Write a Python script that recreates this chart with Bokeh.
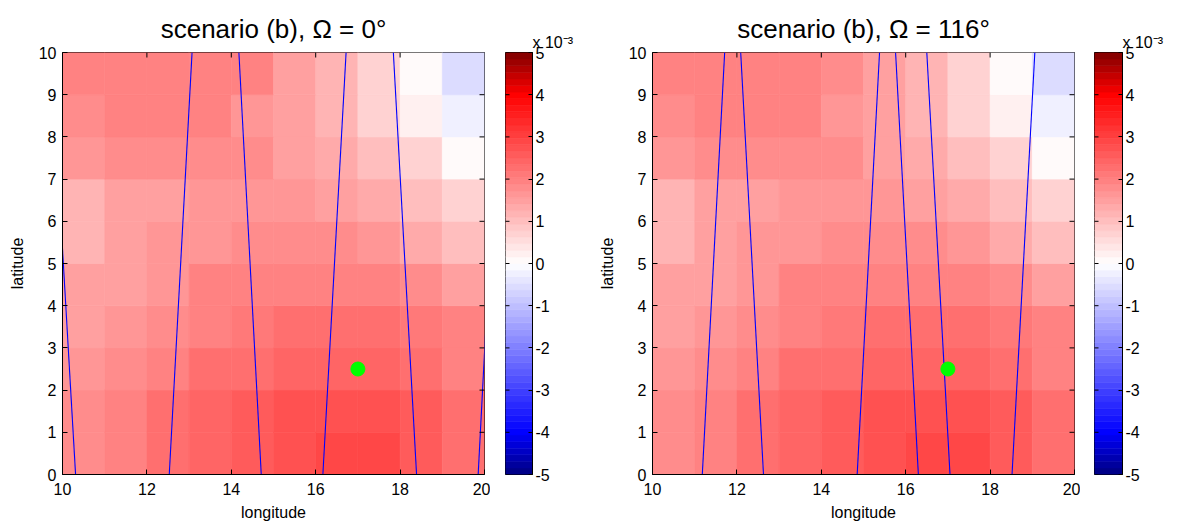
import math
from bokeh.plotting import figure
from bokeh.layouts import row
from bokeh.models import ColumnDataSource, FixedTicker, Title
from bokeh.transform import linear_cmap
from bokeh.embed import file_html
from bokeh.resources import INLINE

# ---------------- data ----------------
lon_centers = [10.5, 11.5, 12.5, 13.5, 14.5, 15.5, 16.5, 17.5, 18.5, 19.5]
lat_centers = [0.5, 1.5, 2.5, 3.5, 4.5, 5.5, 6.5, 7.5, 8.5, 9.5]

# values (x 10^-3), one row per latitude band, from lat 0-1 (first) to lat 9-10 (last)
vals_omega0 = [
    [1.80, 1.96, 2.27, 2.43, 2.51, 2.67, 2.87, 2.87, 2.59, 2.27],
    [1.80, 1.96, 2.20, 2.43, 2.51, 2.67, 2.67, 2.67, 2.51, 2.27],
    [1.57, 1.73, 1.99, 2.20, 2.30, 2.46, 2.46, 2.46, 2.27, 1.99],
    [1.41, 1.57, 1.80, 1.99, 2.15, 2.30, 2.30, 2.30, 2.15, 1.88],
    [1.41, 1.41, 1.57, 1.88, 1.99, 1.99, 1.99, 1.99, 1.80, 1.49],
    [1.18, 1.41, 1.65, 1.65, 1.80, 1.80, 1.80, 1.65, 1.25, 0.94],
    [1.18, 1.41, 1.41, 1.65, 1.65, 1.65, 1.41, 1.25, 0.94, 0.63],
    [1.65, 1.73, 1.73, 1.73, 1.73, 1.41, 1.25, 0.94, 0.63, 0.00],
    [1.73, 1.88, 1.88, 1.88, 1.65, 1.49, 1.10, 0.78, 0.24, -0.30],
    [1.99, 1.99, 1.99, 1.99, 1.99, 1.49, 1.10, 0.63, 0.00, -0.60],
]
vals_omega116 = [
    [1.80, 1.96, 2.27, 2.43, 2.51, 2.67, 2.87, 2.87, 2.59, 2.27],
    [1.80, 1.96, 2.20, 2.43, 2.51, 2.67, 2.67, 2.67, 2.51, 2.27],
    [1.57, 1.73, 1.99, 2.20, 2.30, 2.46, 2.46, 2.46, 2.27, 1.99],
    [1.41, 1.57, 1.80, 1.99, 2.15, 2.30, 2.30, 2.30, 2.15, 1.88],
    [1.41, 1.41, 1.57, 1.88, 1.99, 1.99, 1.99, 1.99, 1.80, 1.49],
    [1.18, 1.41, 1.65, 1.65, 1.80, 1.80, 1.80, 1.65, 1.25, 0.94],
    [1.18, 1.41, 1.41, 1.65, 1.65, 1.65, 1.41, 1.25, 0.94, 0.63],
    [1.65, 1.73, 1.73, 1.73, 1.73, 1.41, 1.25, 0.94, 0.63, 0.00],
    [1.73, 1.88, 1.88, 1.88, 1.65, 1.41, 1.10, 0.78, 0.24, -0.30],
    [1.99, 1.99, 1.99, 1.99, 1.80, 1.41, 1.10, 0.63, 0.00, -0.60],
]

# ground tracks: longitude at latitude 0 and at latitude 10
track_lats = [0, 10]
tracks_omega0_lon_lat0 = [10.31, 12.53, 14.71, 16.17, 18.39, 19.85]
tracks_omega0_lon_lat10 = [9.73, 13.07, 14.18, 16.72, 17.84, 20.37]
tracks_omega116_lon_lat0 = [11.18, 12.63, 14.85, 16.30, 17.05, 18.52]
tracks_omega116_lon_lat10 = [11.71, 12.09, 15.38, 15.76, 16.50, 19.06]

site_lon = [17.0]
site_lat = [2.5]

x_ticks = [10, 12, 14, 16, 18, 20]
y_ticks = [0, 1, 2, 3, 4, 5, 6, 7, 8, 9, 10]
cbar_ticks = [-5, -4, -3, -2, -1, 0, 1, 2, 3, 4, 5]
cbar_low, cbar_high = -5, 5
cbar_exponent = "x 10⁻³"

titles = ["scenario (b), Ω = 0°", "scenario (b), Ω = 116°"]

# ---------------- colormap (blue - white - red) ----------------
N_LEVELS = 64


def bwr(c):
    a = abs(c)
    if a <= 4:
        k = 1 - a / 4.0
        main = 1.0
    else:
        k = 0.0
        main = 1.0 - 0.5 * (a - 4)
    if c >= 0:
        r, g, b = main, k, k
    else:
        r, g, b = k, k, main
    return "#%02x%02x%02x" % (round(r * 255), round(g * 255), round(b * 255))


step = (cbar_high - cbar_low) / N_LEVELS
palette = [bwr(cbar_low + (i + 0.5) * step) for i in range(N_LEVELS)]

FONT = "Liberation Sans"


def style_axes(p):
    p.xgrid.grid_line_color = None
    p.ygrid.grid_line_color = None
    p.outline_line_color = "black"
    p.outline_line_width = 1
    p.background_fill_color = "white"
    p.border_fill_color = "white"
    for ax in p.axis:
        ax.major_label_text_font = FONT
        ax.major_label_text_font_size = "16px"
        ax.major_label_text_color = "black"
        ax.axis_label_text_font = FONT
        ax.axis_label_text_font_size = "16px"
        ax.axis_label_text_font_style = "normal"
        ax.axis_label_text_color = "black"
        ax.axis_line_color = "black"
        ax.major_tick_line_color = "black"
        ax.minor_tick_line_color = None
        ax.major_tick_in = 5
        ax.major_tick_out = 0


def panel(title, vals, lon0, lon10, left_border):
    p = figure(frame_width=422, frame_height=422, x_range=(10, 20), y_range=(0, 10),
               min_border_left=left_border, min_border_right=6,
               min_border_top=52, min_border_bottom=53,
               output_backend="svg", toolbar_location=None)
    t = Title(text=title, text_font=FONT, text_font_size="26px", text_font_style="normal",
              align="center", text_color="black", standoff=13, vertical_align="top")
    p.add_layout(t, "above")

    xs, ys, vs = [], [], []
    for j, lat in enumerate(lat_centers):
        for i, lon in enumerate(lon_centers):
            xs.append(lon)
            ys.append(lat)
            vs.append(vals[j][i])
    src = ColumnDataSource(dict(x=xs, y=ys, v=vs))
    cmap = linear_cmap("v", palette, cbar_low, cbar_high)
    p.rect("x", "y", width=1, height=1, source=src, fill_color=cmap,
           line_color=cmap, line_width=0.6)

    p.multi_line(xs=[[a, b] for a, b in zip(lon0, lon10)],
                 ys=[track_lats for _ in lon0], line_color="#0000ff", line_width=1.1)

    p.scatter(site_lon, site_lat, size=14, fill_color="#00ff00", line_color="#00ff00")

    # inward ticks on the top and right frame edges
    p.scatter(x_ticks[1:-1], [10] * (len(x_ticks) - 2), marker="dash", size=10,
              angle=math.pi / 2, line_color="black", line_width=1)
    p.scatter([20] * (len(y_ticks) - 2), y_ticks[1:-1], marker="dash", size=10,
              line_color="black", line_width=1)

    p.xaxis.ticker = FixedTicker(ticks=x_ticks)
    p.yaxis.ticker = FixedTicker(ticks=y_ticks)
    p.xaxis.axis_label = "longitude"
    p.yaxis.axis_label = "latitude"
    style_axes(p)
    p.xaxis.major_label_standoff = 8
    p.yaxis.major_label_standoff = 6
    p.xaxis.axis_label_standoff = 6
    p.yaxis.axis_label_standoff = 10
    return p


def colorbar(left_border, right_border, bar_w):
    cb = figure(frame_width=bar_w, frame_height=422, x_range=(0, 1),
                y_range=(cbar_low, cbar_high), y_axis_location="right",
                min_border_left=left_border, min_border_right=right_border,
                min_border_top=52, min_border_bottom=53,
                output_backend="svg", toolbar_location=None)
    bottoms = [cbar_low + i * step for i in range(N_LEVELS)]
    tops = [b + step for b in bottoms]
    src = ColumnDataSource(dict(b=bottoms, t=tops, c=palette))
    cb.quad(left=0, right=1, bottom="b", top="t", fill_color="c", line_color="c",
            line_width=0.6, source=src)
    cb.scatter([0] * len(cbar_ticks), cbar_ticks, marker="dash", size=8,
               line_color="black", line_width=1)
    cb.xaxis.visible = False
    cb.yaxis.ticker = FixedTicker(ticks=cbar_ticks)
    cb.yaxis.major_label_overrides = {t: str(t) for t in cbar_ticks}
    style_axes(cb)
    cb.yaxis.major_tick_in = 4
    cb.yaxis.major_label_standoff = 3
    et = Title(text=cbar_exponent, text_font=FONT, text_font_size="16px",
               text_font_style="normal", align="left", offset=bar_w,
               text_color="black", standoff=4)
    cb.add_layout(et, "above")
    return cb


p1 = panel(titles[0], vals_omega0, tracks_omega0_lon_lat0, tracks_omega0_lon_lat10, 62)
c1 = colorbar(15, 60, 27)
p2 = panel(titles[1], vals_omega116, tracks_omega116_lon_lat0, tracks_omega116_lon_lat10, 60)
c2 = colorbar(14, 55, 28)

layout = row(p1, c1, p2, c2)
open("out.html", "w").write(file_html(layout, INLINE))
